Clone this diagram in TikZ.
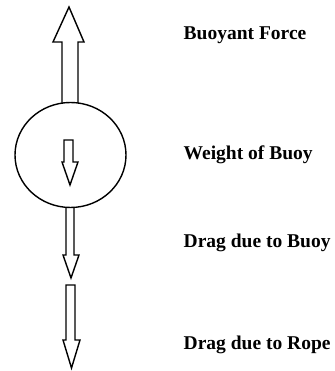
\documentclass[tikz,border=0pt]{standalone}
\usepackage{fontspec}
\setmainfont{Liberation Serif}
\begin{document}
\begin{tikzpicture}[line width=0.8pt,
  forcelabel/.style={anchor=base west, inner sep=0pt, font=\fontsize{11.1}{13}\selectfont\bfseries}]
  \useasboundingbox (0,0) rectangle (6.7,7.42);
  % buoyant force (hollow arrow pointing up)
  \draw[line join=miter] (1.24,5.30) -- (1.24,6.58) -- (1.06,6.58) -- (1.38,7.28)
    -- (1.68,6.58) -- (1.56,6.58) -- (1.56,5.30) -- cycle;
  % drag due to buoy (hollow arrow below the buoy)
  \draw[line join=miter] (1.32,3.40) -- (1.32,2.32) -- (1.26,2.32) -- (1.42,1.86)
    -- (1.58,2.32) -- (1.48,2.32) -- (1.48,3.40) -- cycle;
  % buoy body
  \draw[fill=white] (1.41,4.32) ellipse (1.11 and 1.05);
  % weight of buoy (small arrow inside)
  \draw[line join=miter] (1.28,4.62) -- (1.28,4.18) -- (1.24,4.18) -- (1.40,3.72)
    -- (1.56,4.18) -- (1.46,4.18) -- (1.46,4.62) -- cycle;
  % drag due to rope (separate arrow at the bottom)
  \draw[line join=miter] (1.32,1.72) -- (1.32,0.62) -- (1.26,0.62) -- (1.43,0.06)
    -- (1.60,0.62) -- (1.50,0.62) -- (1.50,1.72) -- cycle;
  % labels
  \node[forcelabel] (buoyantlbl) at (3.66,6.62) {Buoyant Force};
  \node[forcelabel] (weightlbl) at (3.66,4.22) {Weight of Buoy};
  \node[forcelabel] (buoydraglbl) at (3.66,2.46) {Drag due to Buoy};
  \node[forcelabel] (ropedraglbl) at (3.66,0.42) {Drag due to Rope};
\end{tikzpicture}
\end{document}
